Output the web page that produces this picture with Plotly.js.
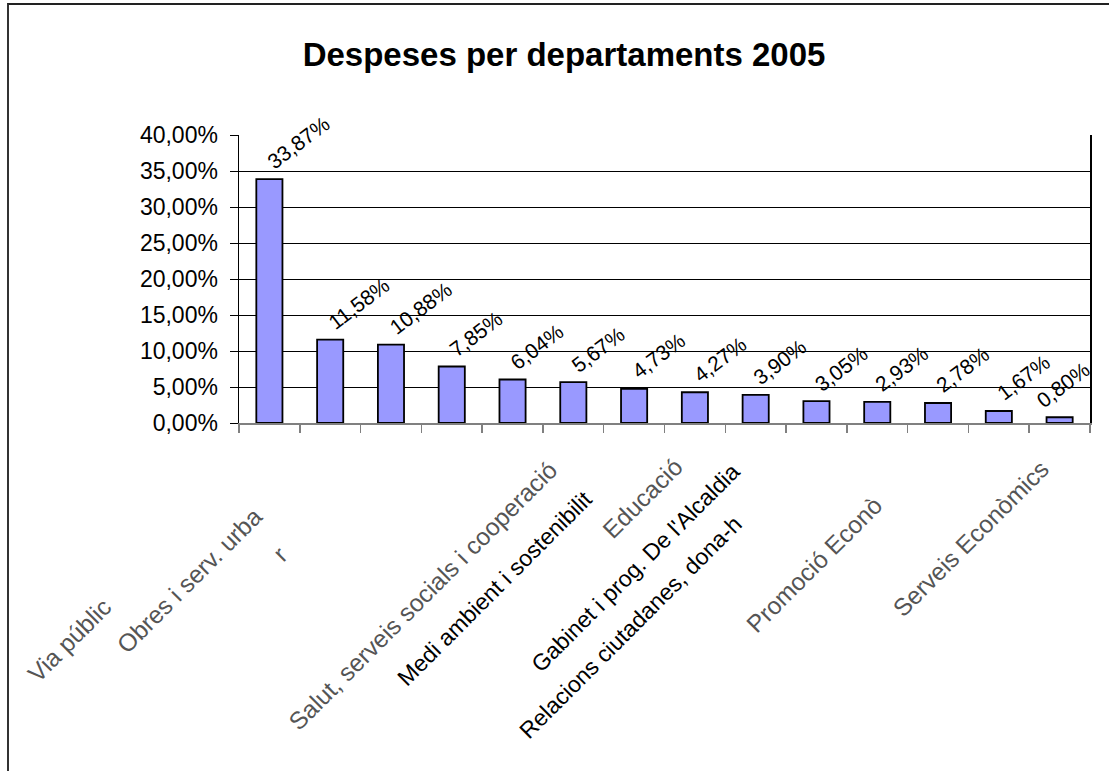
<!DOCTYPE html>
<html>
<head>
<meta charset="utf-8">
<script src="https://cdn.plot.ly/plotly-3.0.1.min.js"></script>
<style>
  html, body { margin: 0; padding: 0; background: #fff; overflow: hidden; }
  #chart { position: absolute; left: 0; top: 0; width: 1109px; height: 771px; }
  #frame { position: absolute; left: 7px; top: 3px; width: 1200px; height: 900px;
           border-top: 2px solid #222; border-left: 2px solid #333; pointer-events: none; }
</style>
</head>
<body>
<div id="chart"></div>
<div id="frame"></div>
<script>
// Data
const categories = ["Via públic", "Obres i serv. urba", "r",
  "Salut, serveis socials i cooperació", "Medi ambient i sostenibilit",
  "Educació", "Gabinet i prog. De l'Alcaldia", "Relacions ciutadanes, dona-h",
  "", "Promoció Econò", "", "Serveis Econòmics", "", ""];
const values = [33.87, 11.58, 10.88, 7.85, 6.04, 5.67, 4.73, 4.27, 3.90, 3.05, 2.93, 2.78, 1.67, 0.80];
const titleText = "Despeses per departaments 2005";

// Label placement styling (pixel offsets of each category label end, as in the original rendering)
const labelOffsets = [[-150,-168],[-60,-77],[-96,-116],[114,-30],[88,-60],[117,-27],[113,-33],[55,-85],[0,0],[74,-65],[0,0],[119,-30],[0,0],[0,0]];
const labelColors = ["#555","#555","#555","#555","#000","#555","#000","#000","#000","#555","#000","#555","#000","#000"];

const FONT = "Liberation Sans, Arial, sans-serif";
const idx = values.map((v, i) => i);

const annotations = [];
// value labels
values.forEach((v, i) => {
  annotations.push({
    x: i, y: v, xref: "x", yref: "y",
    text: v.toFixed(2).replace(".", ",") + "%",
    showarrow: false, textangle: -37,
    xanchor: "left", yanchor: "bottom",
    xshift: i === values.length - 1 ? -30 : -9, yshift: 3,
    font: { family: FONT, size: 21, color: "#000" }
  });
});
// category labels
categories.forEach((c, i) => {
  if (!c) return;
  const gray = labelColors[i] !== "#000";
  annotations.push({
    x: i, y: 0, xref: "x", yref: "paper",
    text: c, showarrow: false, textangle: -45,
    xanchor: "right", yanchor: "top",
    xshift: labelOffsets[i][0], yshift: labelOffsets[i][1],
    font: { family: FONT, size: gray ? 24.5 : 23, color: labelColors[i] }
  });
});

const trace = {
  type: "bar", x: idx, y: values,
  marker: { color: "#9999FF", line: { color: "#000", width: 1.8 } },
  hoverinfo: "skip"
};

const layout = {
  width: 1109, height: 771,
  margin: { l: 239, r: 19, t: 135, b: 348 },
  paper_bgcolor: "#fff", plot_bgcolor: "#fff",
  separators: ",.",
  bargap: 0.57,
  showlegend: false,
  title: {
    text: "<b>" + titleText + "</b>",
    xref: "container", x: 0.5086, xanchor: "center",
    yref: "container", y: 0.929, yanchor: "middle",
    font: { family: FONT, size: 33, color: "#000" }
  },
  xaxis: {
    type: "linear", range: [-0.5, values.length - 0.5],
    tickmode: "linear", tick0: -0.5, dtick: 1,
    showticklabels: false, showgrid: false, zeroline: false,
    showline: true, linecolor: "#808080", linewidth: 2,
    ticks: "outside", ticklen: 8, tickcolor: "#808080", tickwidth: 1.5,
    fixedrange: true
  },
  yaxis: {
    range: [0, 40], tickmode: "linear", tick0: 0, dtick: 5,
    tickformat: ".2f", ticksuffix: "%",
    showgrid: true, gridcolor: "#000", gridwidth: 1,
    zeroline: false,
    showline: true, linecolor: "#000", linewidth: 1.5, mirror: true,
    ticks: "outside", ticklen: 8, tickcolor: "#000", tickwidth: 1,
    ticklabelstandoff: 7,
    tickfont: { family: FONT, size: 23, color: "#000" },
    fixedrange: true
  },
  annotations: annotations
};

Plotly.newPlot("chart", [trace], layout, { staticPlot: true, displayModeBar: false });
</script>
</body>
</html>
